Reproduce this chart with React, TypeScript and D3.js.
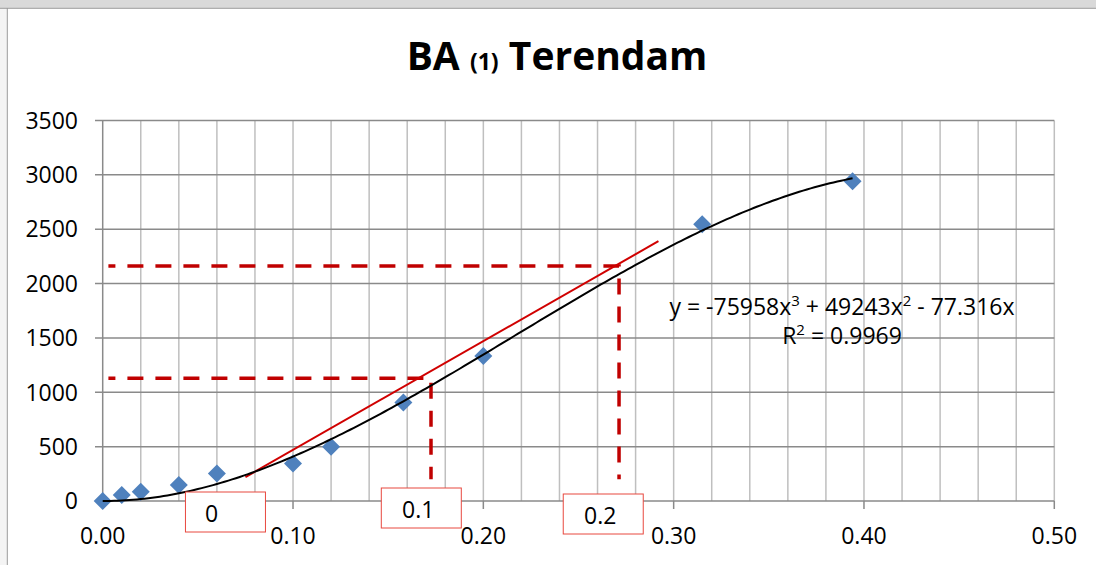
import React from "react";
import * as d3 from "d3";

// ---- data ----
const xValues = [0, 0.01, 0.02, 0.04, 0.06, 0.1, 0.12, 0.158, 0.2, 0.315, 0.394];
const yValues = [0, 55, 85, 147, 254, 346, 499, 905, 1333, 2546, 2941];
const trendCoefs = [-75958, 49243, -77.316]; // x^3, x^2, x
const trendRange = [0, 0.394];
const tangentX = [0.075, 0.292];
const tangentY = [220, 2390];
const guideX = [0.1725, 0.2713];
const guideY = [1128, 2161];
const guideStartX = 0.003;
const guideEndY = 200;
const boxLabels = ["0", "0.1", "0.2"];
const boxCenterX = [0.0645, 0.1674, 0.263];
const xTicks = [0, 0.1, 0.2, 0.3, 0.4, 0.5];
const xGrid = d3.range(0, 26).map((i) => i * 0.02);
const yTicks = [0, 500, 1000, 1500, 2000, 2500, 3000, 3500];
const titleMain = "BA";
const titleSub = "(1)";
const titleRest = "Terendam";
const eqLine1 = ["y = -75958x", "3", " + 49243x", "2", " - 77.316x"];
const eqLine2 = ["R", "2", " = 0.9969"];

const W = 1096;
const H = 565;
const FONT = "'Open Sans', Lato, sans-serif";

export default function App() {
  const x = d3.scaleLinear().domain([0, 0.5]).range([102.7, 1054.3]);
  const y = d3.scaleLinear().domain([0, 3500]).range([501, 120.5]);

  const poly = (v: number) =>
    trendCoefs[0] * v * v * v + trendCoefs[1] * v * v + trendCoefs[2] * v;
  const samples = d3.range(trendRange[0], trendRange[1], 0.002).concat([trendRange[1]]);
  const curve = d3
    .line<number>()
    .x((d) => x(d))
    .y((d) => y(poly(d)))(samples);

  const boxTop = [492, 488, 494];
  const boxTextDx = [-14, -3, -3];
  const red = "#c00000";

  return (
    <svg
      width={W}
      height={H}
      style={{ position: "absolute", left: 0, top: 0, background: "#fff" }}
      fontFamily={FONT}
    >
      {/* page background */}
      <rect x={0} y={0} width={W} height={H} fill="#fff" />
      <rect x={0} y={0} width={7} height={H} fill="#f4f4f4" />
      <rect x={0} y={0} width={W} height={8} fill="#d9d9d9" />
      <line x1={0} x2={W} y1={8.3} y2={8.3} stroke="#9a9a9a" strokeWidth={1} />
      <line x1={7.3} x2={7.3} y1={8} y2={H} stroke="#9a9a9a" strokeWidth={1} />

      {/* title */}
      <text x={557} y={70} textAnchor="middle" fontWeight="bold" fill="#000">
        <tspan fontSize={39}>{titleMain} </tspan>
        <tspan fontSize={23}>{titleSub}</tspan>
        <tspan fontSize={39}> {titleRest}</tspan>
      </text>

      {/* vertical gridlines */}
      {xGrid.map((g) => (
        <line
          key={"vg" + g}
          x1={x(g)}
          x2={x(g)}
          y1={y(3500)}
          y2={y(0)}
          stroke={g === 0 ? "#8a8a8a" : "#bfbfbf"}
          strokeWidth={1.5}
        />
      ))}
      {/* horizontal gridlines */}
      {yTicks.map((t) => (
        <line
          key={"hg" + t}
          x1={95}
          x2={x(0.5)}
          y1={y(t)}
          y2={y(t)}
          stroke="#8a8a8a"
          strokeWidth={1.5}
        />
      ))}
      {/* x ticks */}
      {xTicks.map((t) => (
        <line
          key={"xt" + t}
          x1={x(t)}
          x2={x(t)}
          y1={y(0)}
          y2={y(0) + 8}
          stroke="#8a8a8a"
          strokeWidth={1.5}
        />
      ))}
      {/* y labels */}
      {yTicks.map((t) => (
        <text
          key={"yl" + t}
          x={78}
          y={y(t)}
          dy="0.36em"
          textAnchor="end"
          fontSize={23}
          fill="#000"
        >
          {t}
        </text>
      ))}
      {/* x labels */}
      {xTicks.map((t) => (
        <text
          key={"xl" + t}
          x={x(t)}
          y={544}
          textAnchor="middle"
          fontSize={23}
          fill="#000"
        >
          {t.toFixed(2)}
        </text>
      ))}

      {/* dashed guides */}
      {guideX.map((gx, i) => (
        <path
          key={"gd" + i}
          d={`M${x(guideStartX)},${y(guideY[i])} H${x(gx)} V${y(guideEndY)}`}
          fill="none"
          stroke={red}
          strokeWidth={3.5}
          strokeDasharray="16 12"
          strokeDashoffset={9}
        />
      ))}

      {/* tangent line */}
      <line
        x1={x(tangentX[0])}
        y1={y(tangentY[0])}
        x2={x(tangentX[1])}
        y2={y(tangentY[1])}
        stroke="#d00000"
        strokeWidth={2}
      />

      {/* data points */}
      {xValues.map((v, i) => {
        const cx = x(v);
        const cy = y(yValues[i]);
        const r = 9;
        return (
          <path
            key={"pt" + i}
            d={`M${cx},${cy - r} L${cx + r},${cy} L${cx},${cy + r} L${cx - r},${cy} Z`}
            fill="#4f81bd"
          />
        );
      })}

      {/* trend curve */}
      <path d={curve || ""} fill="none" stroke="#000" strokeWidth={2} />

      {/* equation */}
      <text x={842} y={315} textAnchor="middle" fontSize={23} fill="#000">
        <tspan>{eqLine1[0]}</tspan>
        <tspan fontSize={15} dy={-9}>{eqLine1[1]}</tspan>
        <tspan dy={9}>{eqLine1[2]}</tspan>
        <tspan fontSize={15} dy={-9}>{eqLine1[3]}</tspan>
        <tspan dy={9}>{eqLine1[4]}</tspan>
      </text>
      <text x={842} y={344} textAnchor="middle" fontSize={23} fill="#000">
        <tspan>{eqLine2[0]}</tspan>
        <tspan fontSize={15} dy={-9}>{eqLine2[1]}</tspan>
        <tspan dy={9}>{eqLine2[2]}</tspan>
      </text>

      {/* label boxes */}
      {boxLabels.map((lab, i) => (
        <g key={"bx" + i}>
          <rect
            x={x(boxCenterX[i]) - 40}
            y={boxTop[i]}
            width={80}
            height={40}
            fill="#fff"
            stroke="#e8483f"
            strokeWidth={1}
          />
          <text
            x={x(boxCenterX[i]) + boxTextDx[i]}
            y={boxTop[i] + 30}
            textAnchor="middle"
            fontSize={23}
            fill="#000"
          >
            {lab}
          </text>
        </g>
      ))}
    </svg>
  );
}
